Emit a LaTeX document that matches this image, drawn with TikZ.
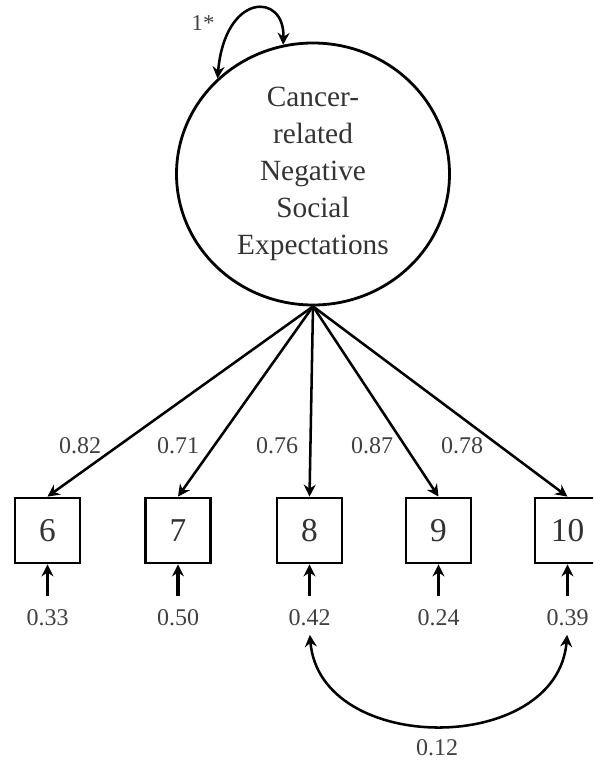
\documentclass[tikz,border=0pt]{standalone}
\usepackage{fontspec}
\setmainfont{Liberation Serif}
\usetikzlibrary{arrows.meta,shapes.geometric}
\begin{document}
\begin{tikzpicture}[x=0.75pt,y=-0.75pt,
  flecha/.style={line width=1.9pt,-{Stealth[length=9pt,width=9pt,inset=3pt]}},
  doble/.style={line width=1.9pt,{Stealth[length=9pt,width=9pt,inset=3pt]}-{Stealth[length=9pt,width=9pt,inset=3pt]}},
  caja/.style={draw,line width=2.1pt,minimum size=48.75pt,inner sep=0pt,font=\fontsize{25}{25}\selectfont,text=black!80},
  num/.style={font=\fontsize{18}{18}\selectfont,text=black!75}]
\def\yCaja{530.5}%Altura de los indicadores
\def\yCoef{446}%Altura de las cargas
\def\yErr{618}%Altura de los errores

\useasboundingbox (0,0) rectangle (593,764);
\clip (0,0) rectangle (593,764);

%Variable latente
\node[ellipse,draw,line width=2.1pt,minimum width=204.75pt,minimum height=196.5pt,inner sep=0pt,
  align=center,font=\fontsize{22}{27.75}\selectfont,text=black!80] (lat) at (313,174)
  {Cancer-\\related\\Negative\\Social\\Expectations};

%Varianza
\draw[doble] (lat.135) .. controls (225,-8) and (285,-8) .. (lat.103);
\node[font=\fontsize{17}{17}\selectfont,text=black!75] (var) at (203,23) {1*};

%Indicadores, cargas y errores
\foreach \n/\x/\lx/\c/\e in {6/47.5/80/0.82/0.33,7/178/178/0.71/0.50,8/309.5/277/0.76/0.42,9/438.5/372/0.87/0.24,10/567.5/462/0.78/0.39}{
    \node[caja] (i\n) at (\x,\yCaja) {\n};
    \draw[flecha] (lat.south) -- (i\n.north);
    \node[num] (c\n) at (\lx,\yCoef) {\c};
    \coordinate (e\n) at (\x,596);
    \draw[flecha,line width=2.4pt] (e\n) -- (i\n.south);
    \node[num] (r\n) at (\x,\yErr) {\e};
}

%Covarianza
\draw[doble,shorten <=3pt,shorten >=3pt] (r8.south) .. controls (320,756) and (557,756) .. (r10.south);
\node[num] (cov) at (437,748) {0.12};
\end{tikzpicture}
\end{document}
